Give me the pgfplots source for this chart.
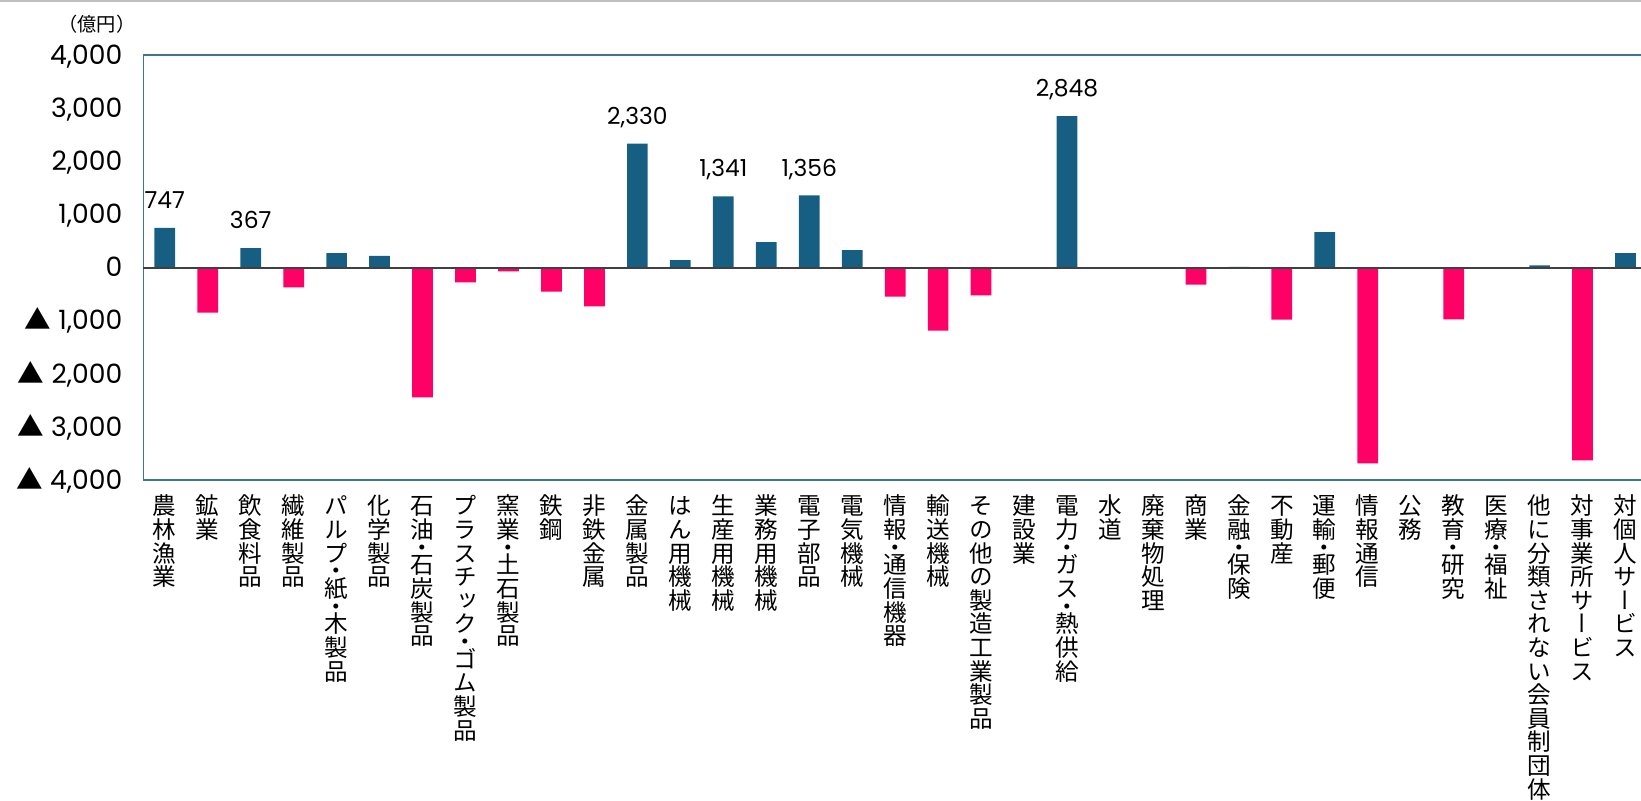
\documentclass[border=0pt]{standalone}
\usepackage{fontspec}
\usepackage{pgfplots}
\pgfplotsset{compat=1.18}
\setmainfont{Poppins}
\newfontfamily\jp{Noto Sans CJK JP}
\newfontfamily\jpv[RawFeature=+vert]{Noto Sans CJK JP}
\definecolor{posbar}{RGB}{23,95,130}
\definecolor{negbar}{RGB}{255,0,102}
\definecolor{framec}{RGB}{62,117,150}

\protected\def\VV#1{\vtop{\offinterlineskip\jpv\fontsize{11.8pt}{11.8pt}\selectfont\VA#1\relax}}
\def\VA#1{\ifx\relax#1\else\VB{#1}\expandafter\VA\fi}
\def\VB#1{\ifx・#1\vbox to 0.5em{\vss\hbox to 1em{\hss\smash{\lower0.38em\hbox{#1}}\hss}\vss}\else\vbox to 1em{\vss\hbox to 1em{\hss\smash{\lower0.38em\hbox{#1}}\hss}\vss}\fi}

\begin{document}
\begin{tikzpicture}
\begin{axis}[
  at={(0,0)}, anchor=north west,
  scale only axis,
  width=751.85pt, height=212.5pt,
  xmin=-0.5, xmax=34.5,
  ymin=-4000, ymax=4000,
  clip=false,
  axis line style={framec, line width=0.8pt},
  major tick length=0pt,
  tick style={draw=none},
  xtick={0,...,34},
  xticklabels={\VV{農林漁業},\VV{鉱業},\VV{飲食料品},\VV{繊維製品},\VV{パルプ・紙・木製品},\VV{化学製品},\VV{石油・石炭製品},\VV{プラスチック・ゴム製品},\VV{窯業・土石製品},\VV{鉄鋼},\VV{非鉄金属},\VV{金属製品},\VV{はん用機械},\VV{生産用機械},\VV{業務用機械},\VV{電子部品},\VV{電気機械},\VV{情報・通信機器},\VV{輸送機械},\VV{その他の製造工業製品},\VV{建設業},\VV{電力・ガス・熱供給},\VV{水道},\VV{廃棄物処理},\VV{商業},\VV{金融・保険},\VV{不動産},\VV{運輸・郵便},\VV{情報通信},\VV{公務},\VV{教育・研究},\VV{医療・福祉},\VV{他に分類されない会員制団体},\VV{対事業所サービス},\VV{対個人サービス}},
  xticklabel style={anchor=north, inner sep=0pt, yshift=-6.9pt},
  ytick={-4000,-3000,-2000,-1000,0,1000,2000,3000,4000},
  yticklabels={{{\jp ▲}\ 4,000},{{\jp ▲}\ 3,000},{{\jp ▲}\ 2,000},{{\jp ▲}\ 1,000},{0},{1,000},{2,000},{3,000},{4,000}},
  yticklabel style={anchor=base east, inner sep=0pt, xshift=-10.3pt, yshift=-4.65pt, font=\fontsize{13.3pt}{16pt}\selectfont, text=black},
]
\addplot[ybar, bar width=10.35pt, bar shift=0pt, fill=posbar, draw=none] coordinates {
(0,747) (2,367) (4,271) (5,220) (11,2330) (12,139) (13,1341) (14,478) (15,1356) (16,327) (21,2848) (25,10) (27,666) (32,38) (34,271)};
\addplot[ybar, bar width=10.35pt, bar shift=0pt, fill=negbar, draw=none] coordinates {
(1,-850) (3,-376) (6,-2447) (7,-282) (8,-75) (9,-452) (10,-734) (17,-546) (18,-1186) (19,-527) (24,-320) (26,-979) (28,-3688) (30,-975) (33,-3630)};
\addplot[draw=none, mark=none, point meta=explicit symbolic, nodes near coords,
  nodes near coords style={inner sep=0pt, text depth=0pt, yshift=9.5pt, font=\fontsize{11.7pt}{14pt}\selectfont, text=black}] coordinates {
(0,747) [747] (2,367) [367] (11,2330) [{2,330}] (13,1341) [{1,341}] (15,1356) [{1,356}] (21,2848) [{2,848}]};
\draw[black!75, line width=1pt] (axis cs:-0.5,0) -- (axis cs:34.5,0);
\end{axis}
\node[font=\jp\fontsize{9.6pt}{11pt}\selectfont, text=black] at (-23.15pt,15.5pt) {（億円）};
\draw[black!25, line width=1pt] (-71.65pt,27pt) -- (748.85pt,27pt);
\pgfresetboundingbox
\useasboundingbox (-71.65pt,-373pt) rectangle (748.85pt,27.5pt);
\end{tikzpicture}
\end{document}
